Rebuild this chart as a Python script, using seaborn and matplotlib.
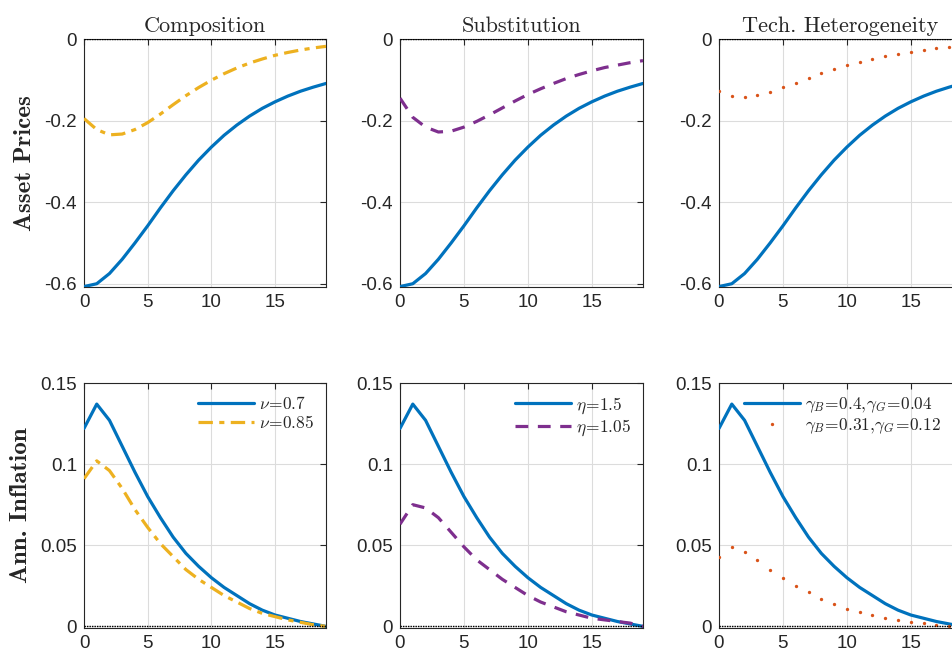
import numpy as np
import pandas as pd
import matplotlib
matplotlib.use("Agg")
import matplotlib.pyplot as plt
import seaborn as sns

sns.set_style("white")
plt.rcParams["mathtext.fontset"] = "cm"
plt.rcParams["font.family"] = ["Liberation Sans", "DejaVu Sans"]

# ---------------- data ----------------
periods = list(range(20))

col_titles = ["Composition", "Substitution", "Tech. Heterogeneity"]
row_labels = ["Asset Prices", "Ann. Inflation"]

asset_base = [-0.607, -0.600, -0.575, -0.540, -0.500, -0.458, -0.414, -0.372, -0.333,
              -0.297, -0.265, -0.236, -0.211, -0.189, -0.170, -0.154, -0.140, -0.128,
              -0.118, -0.109]
asset_comp = [-0.195, -0.222, -0.235, -0.233, -0.222, -0.205, -0.184, -0.161, -0.139,
              -0.119, -0.101, -0.085, -0.071, -0.059, -0.049, -0.040, -0.033, -0.027,
              -0.022, -0.018]
asset_subs = [-0.145, -0.192, -0.216, -0.228, -0.226, -0.216, -0.202, -0.186, -0.169,
              -0.152, -0.136, -0.122, -0.109, -0.097, -0.087, -0.078, -0.070, -0.064,
              -0.058, -0.053]
asset_tech = [-0.128, -0.139, -0.142, -0.137, -0.129, -0.118, -0.108, -0.095, -0.084,
              -0.074, -0.064, -0.056, -0.048, -0.042, -0.036, -0.031, -0.027, -0.023,
              -0.019, -0.016]

infl_base = [0.122, 0.137, 0.127, 0.111, 0.095, 0.080, 0.067, 0.055, 0.045, 0.037,
             0.030, 0.024, 0.019, 0.014, 0.010, 0.007, 0.005, 0.003, 0.0015, 0.0]
infl_comp = [0.091, 0.102, 0.096, 0.085, 0.072, 0.061, 0.051, 0.043, 0.035, 0.029,
             0.024, 0.019, 0.015, 0.011, 0.008, 0.006, 0.004, 0.0025, 0.001, 0.0]
infl_subs = [0.063, 0.075, 0.073, 0.067, 0.058, 0.049, 0.041, 0.035, 0.029, 0.024,
             0.019, 0.015, 0.012, 0.009, 0.007, 0.005, 0.004, 0.003, 0.002, 0.0]
infl_tech = [0.043, 0.049, 0.046, 0.041, 0.035, 0.030, 0.025, 0.021, 0.017, 0.014,
             0.011, 0.009, 0.007, 0.005, 0.004, 0.003, 0.002, 0.001, 0.0005, 0.0]

base_labels = [r"$\nu\!=\!0.7$", r"$\eta\!=\!1.5$", r"$\gamma_B\!=\!0.4,\!\gamma_G\!=\!0.04$"]
alt_labels = [r"$\nu\!=\!0.85$", r"$\eta\!=\!1.05$", r"$\gamma_B\!=\!0.31,\!\gamma_G\!=\!0.12$"]

# ---------------- styling ----------------
BLUE = "#0072BD"
alt_colors = ["#EDB120", "#7E2F8E", "#D95319"]

fig = plt.figure(figsize=(9.53, 6.58), dpi=100)
W, H = 953, 658
cols_px = [(84, 326), (400, 643), (719, 962)]
rows_px = [(39, 287), (383, 628)]

asset_alt = [asset_comp, asset_subs, asset_tech]
infl_alt = [infl_comp, infl_subs, infl_tech]

for r in range(2):
    for c in range(3):
        x0, x1 = cols_px[c]
        y0, y1 = rows_px[r]
        ax = fig.add_axes([x0 / W, 1 - y1 / H, (x1 - x0) / W, (y1 - y0) / H])
        xs = periods
        base = asset_base if r == 0 else infl_base
        alt = asset_alt[c] if r == 0 else infl_alt[c]
        df_b = pd.DataFrame({"t": xs, "v": base})
        df_a = pd.DataFrame({"t": xs, "v": alt})
        sns.lineplot(data=df_b, x="t", y="v", ax=ax, color=BLUE, lw=2.3,
                     label=base_labels[c], zorder=3)
        if c == 0:
            sns.lineplot(data=df_a, x="t", y="v", ax=ax, color=alt_colors[c], lw=2.3,
                         label=alt_labels[c], zorder=3)
            ax.lines[-1].set_linestyle((0, (4.5, 2, 1.6, 2)))
        elif c == 1:
            sns.lineplot(data=df_a, x="t", y="v", ax=ax, color=alt_colors[c], lw=2.3,
                         label=alt_labels[c], zorder=3)
            ax.lines[-1].set_linestyle((0, (4, 3)))
        else:
            sns.lineplot(data=df_a, x="t", y="v", ax=ax, color=alt_colors[c],
                         linestyle="", marker="o", markersize=2.4, markeredgewidth=0,
                         label=alt_labels[c], zorder=3)
        ax.axhline(0, color="black", ls=(0, (1, 0.8)), lw=1.0, zorder=4)

        ax.set_xlim(0, xs[-1])
        ax.set_xticks([0, 5, 10, 15])
        if r == 0:
            ax.set_ylim(-0.608, 0)
            ax.set_yticks([-0.6, -0.4, -0.2, 0])
            ax.set_yticklabels(["-0.6", "-0.4", "-0.2", "0"])
            ax.set_title(col_titles[c], fontsize=16, family="cmr10", pad=5)
        else:
            ax.set_ylim(-0.001, 0.15)
            ax.set_yticks([0, 0.05, 0.1, 0.15])
            ax.set_yticklabels(["0", "0.05", "0.1", "0.15"])
        ax.set_xlabel("")
        ax.set_ylabel("")
        if c == 0:
            ax.set_ylabel(row_labels[r], fontsize=18, family="cmb10", labelpad=6)
        ax.grid(True, color="#dcdcdc", lw=0.8)
        ax.tick_params(direction="in", length=4, width=0.8, labelsize=13.5,
                       colors="#262626", top=True, right=True, pad=5)
        for s in ax.spines.values():
            s.set_color("#262626")
            s.set_linewidth(0.8)
        if r == 1:
            ax.legend(loc="upper right", frameon=False, fontsize=12.5,
                      handlelength=3.2, handletextpad=0.3, labelspacing=0.1,
                      borderaxespad=0.3, numpoints=1,
                      bbox_to_anchor=(1.0, 1.0) if c < 2 else ((953 - x0) / (x1 - x0), 1.0))
        else:
            if ax.get_legend() is not None:
                ax.get_legend().remove()

fig.savefig("out.png", dpi=100)
